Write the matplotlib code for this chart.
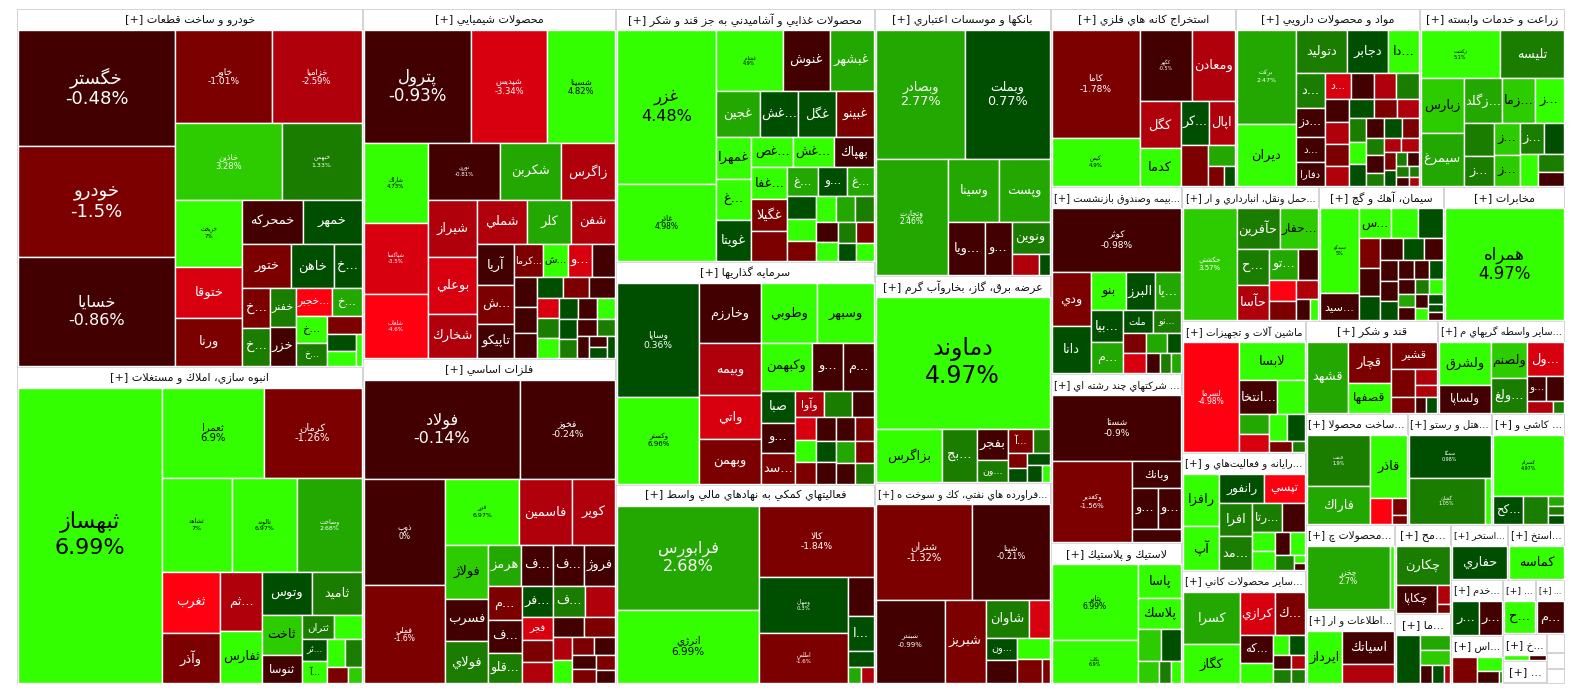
import matplotlib
matplotlib.use('Agg')
import matplotlib.pyplot as plt
from matplotlib.patches import Rectangle
from matplotlib.textpath import TextPath
from matplotlib.font_manager import FontProperties

# ---- data: one list per sector, rows are (symbol, size, change %) ----
auto = [('خگستر', 18100, -0.48), ('خودرو', 17300, -1.5), ('خسايا', 16850, -0.86),
        ('خاور', 8920, -1.01), ('خزاميا', 8280, -2.59), ('خاذين', 8130, 3.28),
        ('خبهمن', 6080, 1.33), ('خريخت', 4420, 7.0), ('ختوقا', 3370, -3.3),
        ('ورنا', 3170, -1.5), ('خمحركه', 2620, -0.5), ('خمهر', 2540, 0.5),
        ('ختور', 2160, -1.5), ('خاهن', 1890, 0.5), ('خ...', 1230, 0.5),
        ('خ...', 1080, -1.5), ('خ...', 1030, 1.5), ('خفنر', 995, 1.5), ('خزر', 990, -0.5),
        ('خجبر...', 985, -4.5), ('خ...', 830, 2.5), ('خ...', 825, 4.5), ('خ...', 700, 1.5),
        ('', 610, -1.5), ('', 480, 0.5), ('', 430, 4.5), ('', 170, 4.5)]
build = [('ثبهساز', 42000, 6.99), ('ثعمرا', 9080, 6.9), ('كرمان', 8720, -1.26),
         ('ثشاهد', 6500, 7.0), ('ثالوند', 6100, 6.97), ('وساخت', 6000, 2.68),
         ('ثغرب', 3530, -4.5), ('وآذر', 2850, -1.5), ('ثم...', 2420, -2.5), ('ثفارس', 2170, 4.5),
         ('وتوس', 2110, 0.5), ('ثاميد', 2100, 1.5), ('ثاخت', 1600, 3.8), ('ثنوسا', 1100, -0.5),
         ('ثتران', 770, 1.5), ('', 670, 4.5), ('ثر...', 550, 0.5), ('آ...', 545, 4.5),
         ('', 500, 4.5), ('', 450, 1.5), ('', 340, -1.5), ('', 210, 3.8)]
chem = [('پترول', 11660, -0.93), ('شپديس', 8360, -3.34), ('شسينا', 7370, 4.82),
        ('شاراك', 4900, 4.73), ('شپاكسا', 4400, -3.5), ('شلعاب', 3970, -4.6),
        ('نوري', 3900, -0.81), ('شكربن', 3300, 2.5), ('زاگرس', 2900, -2.5),
        ('شيراز', 2700, -2.5), ('بوعلي', 2680, -3.3), ('شخارك', 2100, -2.5),
        ('شملي', 2090, -2.5), ('كلر', 1870, 2.5), ('شفن', 1850, -2.5),
        ('آريا', 1470, -0.5), ('ش...', 1360, -1.5), ('تاپيكو', 1220, -0.5),
        ('كرما...', 920, -1.5), ('ش...', 780, 4.5), ('و...', 750, -3.0),
        ('', 745, -0.5), ('', 660, -0.5), ('', 580, -0.5), ('', 550, -0.5),
        ('', 520, 0.5), ('', 520, -1.5), ('', 515, -0.5), ('', 440, -3.0),
        ('', 420, 1.5), ('', 420, 4.5), ('', 380, 0.5), ('', 380, -0.5), ('', 360, 4.5),
        ('', 340, 0.5), ('', 330, 1.5), ('', 330, -0.5), ('', 290, 1.5), ('', 250, -0.5),
        ('', 200, -0.5), ('', 190, 0.5), ('', 180, 0.5)]
metal = [('فولاد', 15000, -0.14), ('فخوز', 9200, -0.24), ('ذوب', 8300, 0.0),
         ('فملي', 7740, -1.6), ('فزر', 4740, 6.97), ('فاسمين', 3330, -2.5), ('كوير', 2750, -2.5),
         ('فولاژ', 2230, 3.8), ('فسرب', 1760, -0.5), ('فولاي', 1750, 1.5),
         ('هرمز', 1320, 2.5), ('ف...', 1280, -0.5), ('ف...', 1250, -0.5), ('فروژ', 1240, -0.5),
         ('م...', 1120, -1.5), ('ف...', 1060, -0.5), ('قلو...', 990, 1.5),
         ('فر...', 930, 0.3), ('ف...', 925, 1.5), ('', 900, -2.5), ('فجر', 690, -3.0),
         ('', 680, -1.5), ('', 620, -2.5), ('', 610, -0.5), ('', 600, -1.5), ('', 440, -2.5),
         ('', 440, 4.5), ('', 380, -1.5), ('', 380, -0.5), ('', 330, -0.5), ('', 310, -1.5),
         ('', 280, -1.5), ('', 240, -0.5)]
food = [('غزر', 14750, 4.48), ('غاذر', 7370, 4.98), ('غشاذر', 3960, 4.9),
        ('غنوش', 2820, -0.5), ('غبشهر', 2580, 2.5), ('غجين', 1940, 2.5), ('غش...', 1710, 0.5),
        ('غگل', 1680, 0.5), ('غبينو', 1660, -1.5), ('غمهرا', 1440, 4.5), ('غ...', 1420, 4.5),
        ('غويتا', 1400, 0.5), ('غص...', 1210, 4.5), ('غش...', 1200, 4.5), ('بهپاك', 1170, -0.5),
        ('غفا...', 1110, 4.5), ('غگيلا', 1100, -1.5), ('', 1050, -1.5), ('غ...', 840, 2.5),
        ('و...', 830, 0.5), ('غ...', 725, 2.5), ('', 650, 0.5), ('', 600, 4.5), ('', 550, -1.5),
        ('', 500, 4.5), ('', 480, 2.5), ('', 450, 1.5), ('', 420, -0.5), ('', 400, 4.5),
        ('', 380, 1.5), ('', 350, -1.5), ('', 330, 0.5), ('', 300, 4.5)]
invest = [('وساپا', 9120, 0.36), ('وكستر', 6880, 6.96), ('وخارزم', 3600, -0.5),
          ('وطوبي', 3310, 4.5), ('وسبهر', 3300, 4.5), ('وبيمه', 3060, -2.5), ('واتي', 2650, -3.3),
          ('وبهمن', 2620, -1.5), ('وكبهمن', 2350, 4.5), ('و...', 1430, -0.5), ('م...', 1380, -0.5),
          ('صبا', 1050, 0.5), ('و...', 1000, -0.5), ('سد...', 990, -1.5), ('وآوا', 750, -2.5),
          ('', 700, 1.5), ('', 550, -0.5), ('', 480, -3.3), ('', 470, 4.5), ('', 460, -1.5),
          ('', 450, -0.5), ('', 440, -0.5), ('', 430, -1.5), ('', 420, 0.5), ('', 410, -0.5),
          ('', 400, 2.5), ('', 390, -1.5), ('', 380, -0.5), ('', 370, 1.5)]
broker = [('فرابورس', 14560, 2.68), ('انرژي', 10220, 6.99), ('كالا', 8050, -1.84),
          ('ومهان', 4800, 0.3), ('اطلس', 4350, -1.6), ('', 970, -0.5), ('ا...', 890, 0.5),
          ('', 400, 0.5), ('', 210, 2.5), ('', 205, -2.5)]
bank = [('وبصادر', 11400, 2.77), ('وبملت', 10750, 0.77), ('وتجارت', 8300, 2.46),
        ('وسينا', 3200, 2.5), ('وپست', 3150, 2.5), ('ويا...', 1900, -0.5), ('و...', 1380, -0.5),
        ('ونوين', 1180, 1.5), ('', 570, -2.5), ('', 230, 0.5)]
power = [('دماوند', 22600, 4.97), ('بزاگرس', 3520, 4.5), ('بج...', 1840, 1.5),
         ('بفجر', 960, -0.5), ('ون...', 680, 1.5), ('آ...', 600, -1.5), ('', 410, 1.5),
         ('', 300, -1.5), ('', 270, 0.5), ('', 265, 0.5), ('', 240, 0.5), ('', 140, 4.5)]
oil = [('شتران', 8830, -1.32), ('شپنا', 7080, -0.21), ('شبندر', 5500, -0.99),
       ('شبريز', 3280, -1.5), ('شاوان', 1550, 1.5), ('', 760, -3.0), ('ون...', 680, 0.5),
       ('', 675, -0.5), ('', 660, 4.5), ('', 580, -1.5), ('', 190, -1.5)]
mine = [('كاما', 9200, -1.78), ('كيمن', 4130, 4.9), ('كگهر', 3590, -0.5), ('ومعادن', 2970, -2.5),
        ('كگل', 1880, -2.5), ('كدما', 1520, 4.5), ('كر...', 1200, 0.5), ('اپال', 1100, -2.5),
        ('', 1080, -1.5), ('', 570, 2.5), ('', 320, -1.5), ('', 200, 0.5)]
pharma = [('بركت', 5400, 2.47), ('ديران', 3600, 4.5), ('دتوليد', 2150, 1.5), ('دجابر', 1720, 0.5),
          ('دا...', 1290, 4.5), ('د...', 1020, 1.5), ('دز...', 840, -0.5), ('د...', 720, -0.5),
          ('دفارا', 690, -0.5), ('د...', 650, -3.5), ('', 600, -0.5), ('', 570, -2.5),
          ('', 565, 1.5), ('', 530, -0.5), ('', 510, -2.5), ('', 500, -1.5), ('', 475, -2.5),
          ('', 450, 0.5), ('', 420, -1.5), ('', 400, -2.5), ('', 400, 1.5), ('', 380, 4.5),
          ('', 370, 0.5), ('', 350, -0.5), ('', 340, 0.5), ('', 330, -1.5), ('', 310, 1.5),
          ('', 300, -0.5), ('', 240, 1.5), ('', 240, -2.5), ('', 240, -2.5), ('', 200, -1.5),
          ('', 180, 0.5), ('', 160, 1.5), ('', 150, -0.5), ('', 140, 1.5), ('', 120, -0.5),
          ('', 100, 1.5), ('', 90, -2.5)]
farm = [('زكشت', 3710, 5.1), ('تليسه', 3000, 1.5), ('زبارس', 2270, 3.8), ('سيمرغ', 2230, 2.5),
        ('زگلد...', 1630, 2.5), ('زما...', 1380, 3.8), ('ز...', 1250, 4.5), ('', 960, 1.5),
        ('ز...', 870, 1.5), ('ز...', 830, 3.8), ('ز...', 810, 3.8), ('ز...', 710, 1.5),
        ('', 620, 0.5), ('', 545, 4.5), ('', 440, 1.5), ('', 360, -0.5)]
insur = [('كوثر', 8000, -0.98), ('ودي', 2050, -1.5), ('دانا', 1790, 0.5), ('بنو', 1260, 4.5),
         ('البرز', 1040, 0.5), ('يا...', 965, 2.5), ('بيا...', 960, 0.5), ('م...', 930, 2.5),
         ('ملت', 660, 0.5), ('نو...', 620, 1.5), ('', 460, -1.5), ('', 455, -3.5),
         ('', 400, 2.5), ('', 280, 0.5), ('', 270, -0.5), ('', 220, 1.5), ('', 200, 2.5)]
multi = [('شستا', 8260, -0.9), ('وكغدير', 6320, -1.56), ('وبانك', 1300, -0.5),
         ('و...', 1000, -0.5), ('و...', 920, -0.5), ('', 650, -0.5)]
rubber = [('پتاير', 6300, 6.99), ('پكاب', 3530, 6.9), ('پاسا', 1410, 4.5), ('پلاسك', 1280, 4.5),
          ('', 710, 3.8), ('', 620, 0.5), ('', 440, 3.8), ('', 260, 1.5), ('', 220, 4.5)]
trans = [('حكشتي', 5800, 3.57), ('حآفرين', 1680, 1.5), ('حفار...', 1520, 3.8),
         ('ح...', 1150, 1.5), ('حآسا', 1120, -2.5), ('تو...', 900, 2.5), ('', 620, -0.5),
         ('', 520, -4.5), ('', 500, -1.5), ('', 400, -2.5), ('', 300, -0.5), ('', 180, 4.5)]
cement = [('سيدكو', 3100, 5.0), ('سيد...', 1000, -0.5), ('س...', 930, 4.5), ('', 780, 4.5),
          ('', 700, 0.5), ('', 600, -1.5), ('', 560, -0.5), ('', 500, 0.5), ('', 480, -0.5),
          ('', 420, 0.5), ('', 380, -0.5), ('', 360, -0.5), ('', 340, -0.5), ('', 320, 0.5),
          ('', 300, -0.5), ('', 280, -0.5), ('', 260, 0.5), ('', 240, -0.5), ('', 230, 2.5),
          ('', 220, -0.5), ('', 200, 1.5), ('', 190, 4.5), ('', 170, -0.5), ('', 150, 4.5),
          ('', 130, 0.5), ('', 120, 0.5), ('', 110, -0.5)]
telecom = [('همراه', 13300, 4.97)]
machine = [('لسرما', 6050, -4.98), ('لابسا', 2440, 4.5), ('انتخا...', 1290, -0.5), ('', 920, 4.5),
           ('', 580, 2.5), ('', 520, -3.0), ('', 490, 4.5), ('', 460, 0.5), ('', 230, -1.5),
           ('', 130, 1.5)]
sugar = [('قشهد', 2800, 2.5), ('قچار', 1680, -1.5), ('قصفها', 1220, 4.5), ('قشير', 1180, -1.5),
         ('', 670, -1.5), ('', 360, -1.5), ('', 330, -2.5), ('', 240, -2.5), ('', 170, -0.5),
         ('', 160, 0.5)]
finance = [('ولشرق', 2160, 4.5), ('ولساپا', 1400, -0.5), ('ولصنم', 1230, 3.8), ('ولغ...', 1220, 1.5),
           ('ول...', 1190, -3.0), ('و...', 460, -0.5), ('', 430, -0.5), ('', 290, -2.5),
           ('', 130, 1.5)]
computer = [('رافزا', 1790, 4.5), ('آپ', 1500, 4.5), ('رانفور', 1260, 0.5), ('تپسي', 1120, -4.5),
            ('افرا', 1070, 1.5), ('مد...', 1060, 1.5), ('رتا...', 810, 1.5), ('', 640, -0.5),
            ('', 410, 4.5), ('', 405, 4.5), ('', 340, -0.5), ('', 335, 4.5), ('', 260, 1.5),
            ('', 80, 4.5), ('', 70, -0.5)]
mineral = [('كسرا', 2900, 2.5), ('كگاز', 2130, 4.5), ('كرازي', 1470, -3.0), ('ك...', 1260, -1.5),
           ('كه...', 890, -0.5), ('', 660, 4.5), ('', 300, 4.5), ('', 295, 0.5), ('', 240, -0.5),
           ('', 235, 1.5), ('', 190, -2.5), ('', 185, 1.5)]
fabmetal = [('فنفت', 3260, 1.9), ('فاراك', 2370, 2.5), ('قاذر', 2270, 4.5), ('', 550, -4.5),
            ('', 240, -1.5), ('', 135, -1.5)]
hotel = [('سمگا', 3520, 0.98), ('گشان', 3380, 1.05), ('', 270, 4.5)]
tile = [('كسرام', 4320, 4.97), ('كح...', 840, 0.5), ('', 700, 1.5), ('', 160, 2.5),
        ('', 140, 1.5), ('', 130, 0.5)]
leather = [('چخزر', 5170, 2.7), ('', 250, 4.5)]
info = [('ايرداز', 1850, 4.5), ('اسياتك', 1680, -0.5), ('', 970, -2.5)]
paper = [('چكارن', 2050, 1.5), ('چكاپا', 1100, -0.5), ('', 250, -2.5), ('', 110, -1.5)]
misc1 = [('', 1080, 0.5), ('', 435, 2.5), ('', 430, 3.8), ('', 200, -0.5), ('', 195, 0.5),
         ('', 100, -2.5)]
drill = [('حفاري', 1800, 0.5)]
quarry = [('كماسه', 1970, 4.5)]
service = [('ر...', 950, 0.5), ('ر...', 800, -0.5)]
misc2 = [('ح...', 960, 4.5)]
misc3 = [('م...', 840, -0.5)]
misc4 = [('', 630, -1.5), ('', 340, 4.5), ('', 240, -0.5), ('', 40, 1.5)]
misc5 = [('', 150, 4.5), ('', 100, -0.5)]
misc6 = [('', 40, 4.5)]
misc7 = [('', 20, -1.5)]
misc8 = [('', 20, 4.5)]
misc9 = [('', 20, -0.5)]

sectors = [
    ('خودرو و ساخت قطعات', 123000, auto),
    ('انبوه سازي، املاك و مستغلات', 109200, build),
    ('محصولات شيميايي', 88300, chem),
    ('فلزات اساسي', 82000, metal),
    ('محصولات غذايي و آشاميدني به جز قند و شكر', 65000, food),
    ('سرمايه گذاريها', 57300, invest),
    ('فعاليتهاي كمكي به نهادهاي مالي واسط', 51300, broker),
    ('بانکها و موسسات اعتباري', 46800, bank),
    ('عرضه برق، گاز، بخاروآب گرم', 36400, power),
    ('فراورده هاي نفتي، كك و سوخت ه...', 35200, oil),
    ('استخراج كانه هاي فلزي', 32800, mine),
    ('مواد و محصولات دارويي', 32600, pharma),
    ('زراعت و خدمات وابسته', 25800, farm),
    ('بيمه وصندوق بازنشست...', 24500, insur),
    ('شركتهاي چند رشته اي ...', 22140, multi),
    ('لاستيك و پلاستيك', 18400, rubber),
    ('حمل ونقل، انبارداري و ار...', 18300, trans),
    ('سيمان، آهك و گچ', 16600, cement),
    ('مخابرات', 16200, telecom),
    ('ماشين آلات و تجهيزات', 16100, machine),
    ('رايانه و فعاليت\u200cهاي و...', 14500, computer),
    ('ساير محصولات كاني...', 13900, mineral),
    ('قند و شكر', 12140, sugar),
    ('ساير واسطه گريهاي م...', 11700, finance),
    ('ساخت محصولا...', 11300, fabmetal),
    ('هتل و رستو...', 9300, hotel),
    ('كاشي و ...', 8100, tile),
    ('محصولات چ...', 7560, leather),
    ('اطلاعات و ار...', 6590, info),
    ('مح...', 4980, paper),
    ('ما...', 3920, misc1),
    ('استخر...', 3150, drill),
    ('استخ...', 3100, quarry),
    ('خدم...', 2900, service),
    ('اس...', 2500, misc4),
    ('...', 1780, misc2),
    ('...', 1570, misc3),
    ('خ...', 1160, misc5),
    ('...', 990, misc6),
    ('', 330, misc7),
    ('', 300, misc8),
    ('', 270, misc9),
]

# label font sizes (pt) for tiles that show name + change
LABEL_PT = {'خگستر': 13, 'خودرو': 13, 'خسايا': 11.5, 'پترول': 12, 'غزر': 11.5, 'ثبهساز': 16,
            'فولاد': 11.5, 'دماوند': 17, 'همراه': 12, 'فرابورس': 11.5, 'وبصادر': 9.2,
            'وبملت': 9.2, 'كاما': 6.6, 'كرمان': 7.2, 'ثعمرا': 7.2, 'وساپا': 6.6, 'كالا': 6.6,
            'شتران': 7.2, 'انرژي': 7.5, 'فخوز': 6.6, 'كوثر': 6.6, 'شستا': 6.6, 'خاور': 6.6,
            'پتاير': 5.5, 'شپنا': 6, 'خزاميا': 6, 'شپديس': 6, 'شسينا': 6, 'خاذين': 6,
            'ذوب': 5.5, 'فملي': 5.5, 'غاذر': 5.5, 'وتجارت': 5.5, 'شبندر': 5, 'وكغدير': 5,
            'لسرما': 5.5, 'حكشتي': 5, 'چخزر': 5.5, 'خبهمن': 4.5, 'خريخت': 4, 'شاراك': 4,
            'شپاكسا': 4, 'شلعاب': 4, 'نوري': 4, 'ثشاهد': 4.5, 'ثالوند': 4.5, 'وساخت': 4.5,
            'فزر': 4.5, 'غشاذر': 3.5, 'وكستر': 5, 'ومهان': 4, 'اطلس': 4, 'كيمن': 4, 'كگهر': 3.5,
            'بركت': 4.5, 'زكشت': 3.5, 'پكاب': 3.5, 'سيدكو': 3.5, 'فنفت': 3.5, 'سمگا': 3.5,
            'گشان': 3.5, 'كسرام': 3.5}

FORMS = {
    'آ': 'ﺁﺂ', 'أ': 'ﺃﺄ', 'ؤ': 'ﺅﺆ', 'إ': 'ﺇﺈ', 'ا': 'ﺍﺎ', 'ة': 'ﺓﺔ', 'د': 'ﺩﺪ', 'ذ': 'ﺫﺬ',
    'ر': 'ﺭﺮ', 'ز': 'ﺯﺰ', 'و': 'ﻭﻮ', 'ژ': 'ﮊﮋ', 'ى': 'ﻯﻰ', 'ء': 'ﺀ',
    'ئ': 'ﺉﺊﺋﺌ', 'ب': 'ﺏﺐﺑﺒ', 'ت': 'ﺕﺖﺗﺘ', 'ث': 'ﺙﺚﺛﺜ', 'ج': 'ﺝﺞﺟﺠ', 'ح': 'ﺡﺢﺣﺤ',
    'خ': 'ﺥﺦﺧﺨ', 'س': 'ﺱﺲﺳﺴ', 'ش': 'ﺵﺶﺷﺸ', 'ص': 'ﺹﺺﺻﺼ', 'ض': 'ﺽﺾﺿﻀ', 'ط': 'ﻁﻂﻃﻄ',
    'ظ': 'ﻅﻆﻇﻈ', 'ع': 'ﻉﻊﻋﻌ', 'غ': 'ﻍﻎﻏﻐ', 'ف': 'ﻑﻒﻓﻔ', 'ق': 'ﻕﻖﻗﻘ', 'ك': 'ﻙﻚﻛﻜ',
    'ل': 'ﻝﻞﻟﻠ', 'م': 'ﻡﻢﻣﻤ', 'ن': 'ﻥﻦﻧﻨ', 'ه': 'ﻩﻪﻫﻬ', 'ي': 'ﻱﻲﻳﻴ', 'پ': 'ﭖﭗﭘﭙ',
    'چ': 'ﭺﭻﭼﭽ', 'ک': 'ﮎﮏﮐﮑ', 'گ': 'ﮒﮓﮔﮕ', 'ی': 'ﯼﯽﯾﯿ',
}
LAM_ALEF = {'ا': 'ﻻﻼ', 'آ': 'ﻵﻶ', 'أ': 'ﻷﻸ', 'إ': 'ﻹﻺ'}


def shape(s):
    toks = []
    i = 0
    while i < len(s):
        c = s[i]
        if c == 'ل' and i + 1 < len(s) and s[i + 1] in LAM_ALEF:
            toks.append(('F', LAM_ALEF[s[i + 1]]))
            i += 2
        elif c in FORMS:
            toks.append(('F', FORMS[c]))
            i += 1
        else:
            toks.append(('C', c))
            i += 1
    out = []
    for k, (kind, t) in enumerate(toks):
        if kind == 'C':
            out.append('' if t == '\u200c' else t)
            continue
        prev = toks[k - 1] if k > 0 else None
        nxt = toks[k + 1] if k + 1 < len(toks) else None
        jp = prev is not None and prev[0] == 'F' and len(prev[1]) == 4
        jn = len(t) == 4 and nxt is not None and nxt[0] == 'F' and len(nxt[1]) >= 2
        if len(t) == 1:
            out.append(t[0])
        elif jp and jn:
            out.append(t[3])
        elif jp:
            out.append(t[1])
        elif jn:
            out.append(t[2])
        else:
            out.append(t[0])
    return ''.join(out)


def vis(s):
    # right-to-left run inside a left-to-right line: a cut-off "..." stays on the right
    tail = ''
    if s.endswith('...'):
        body = s[:-3]
        core = body.rstrip()
        tail = body[len(core):] + '...'
        s = core
    return shape(s)[::-1] + tail


def squarify(values, x0, y0, x1, y1, ratio=1.0):
    rects = [None] * len(values)
    value = float(sum(values))
    n = len(values)
    i0 = 0
    while i0 < n:
        dx, dy = x1 - x0, y1 - y0
        s = values[i0]
        i1 = i0 + 1
        mn = mx = s
        alpha = max(dy / dx, dx / dy) / (value * ratio)
        beta = s * s * alpha
        best = max(mx / beta, beta / mn)
        while i1 < n:
            v = values[i1]
            s2 = s + v
            beta = s2 * s2 * alpha
            r = max(max(mx, v) / beta, beta / min(mn, v))
            if r > best:
                break
            s, mn, mx, best = s2, min(mn, v), max(mx, v), r
            i1 += 1
        if dx < dy:
            yb = y1 if i1 == n else y0 + dy * s / value
            xx = x0
            for k in range(i0, i1):
                w = dx * values[k] / s
                rects[k] = (xx, y0, xx + w, yb)
                xx += w
            y0 = yb
        else:
            xb = x1 if i1 == n else x0 + dx * s / value
            yy = y0
            for k in range(i0, i1):
                h = dy * values[k] / s
                rects[k] = (x0, yy, xb, yy + h)
                yy += h
            x0 = xb
        value -= s
        i0 = i1
    return rects


def tile_color(p):
    if p >= 4:
        return '#33ff00'
    if p >= 3:
        return '#2ccc00'
    if p >= 2:
        return '#22a800'
    if p >= 1:
        return '#1a7d00'
    if p > 0:
        return '#004f00'
    if p > -1:
        return '#420000'
    if p > -2:
        return '#7d0000'
    if p > -3:
        return '#b0000c'
    if p > -4:
        return '#d8000f'
    return '#ff0010'


FP = FontProperties(family='DejaVu Sans')
PX = 100 / 72.0


def text_width(s):
    # width in px of the string at a 1 px font size
    return TextPath((0, 0), s, size=1, prop=FP).get_extents().width


def main():
    fig = plt.figure(figsize=(15.84, 6.98), dpi=100)
    ax = fig.add_axes([0, 0, 1, 1])
    ax.set_xlim(0, 1584)
    ax.set_ylim(698, 0)
    ax.axis('off')

    X0, Y0, X1, Y1 = 17, 9, 1565, 684
    ax.add_patch(Rectangle((X0, Y0), X1 - X0, Y1 - Y0, fc='#d4d4d4', ec='none'))

    srects = squarify([s[1] for s in sectors], X0, Y0, X1, Y1)
    for (title, _, rows), (x0, y0, x1, y1) in zip(sectors, srects):
        hh = min(20, y1 - y0 - 2)
        head = Rectangle((x0 + 1, y0 + 1), x1 - x0 - 2, hh, fc='white', ec='none')
        ax.add_patch(head)
        if title:
            label = '[+] ' + vis(title)
            hpx = min(8 * PX, (x1 - x0 - 8) / text_width(label))
            t = ax.text((x0 + x1) / 2, y0 + 1 + hh / 2, label,
                        ha='center', va='center', fontsize=hpx / PX, color='#111111',
                        family='DejaVu Sans')
            t.set_clip_path(head)
        rows = sorted(rows, key=lambda r: -r[1])
        if y1 - 1 - (y0 + 1 + hh) < 1:
            continue
        trects = squarify([r[1] for r in rows], x0 + 1, y0 + 1 + hh, x1 - 1, y1 - 1)
        for (name, _, p), (a, b, c, d) in zip(rows, trects):
            col = tile_color(p)
            ax.add_patch(Rectangle((a, b), c - a, d - b, fc=col, ec='white', lw=1.0))
            if not name:
                continue
            tc = 'black' if p >= 3.6 else 'white'
            w, h = c - a, d - b
            cx, cy = (a + c) / 2, (b + d) / 2
            if name in LABEL_PT:
                fs = LABEL_PT[name]
                off = 0.58 * fs * PX
                ax.text(cx, cy - off, vis(name), ha='center', va='center',
                        fontsize=fs, color=tc, family='DejaVu Sans')
                ax.text(cx, cy + off, '{:g}%'.format(p), ha='center', va='center',
                        fontsize=fs, color=tc, family='DejaVu Sans')
            else:
                s = vis(name)
                fpx = min(13.0, 0.42 * h, (w - 4) / max(text_width(s), 1e-6))
                if fpx < 6:
                    continue
                ax.text(cx, cy, s, ha='center', va='center', fontsize=fpx / PX,
                        color=tc, family='DejaVu Sans')

    fig.savefig('out.png', dpi=100)
    plt.close(fig)


if __name__ == '__main__':
    main()
